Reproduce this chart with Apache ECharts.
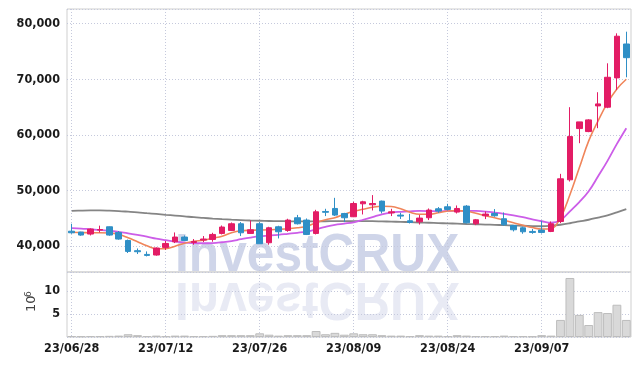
<!DOCTYPE html>
<html>
<head>
<meta charset="utf-8">
<script src="https://cdn.jsdelivr.net/npm/echarts@6/dist/echarts.min.js"></script>
<style>
  html, body { margin: 0; padding: 0; background: #fff; }
  #chart { width: 639px; height: 366px; }
</style>
</head>
<body>
<div id="chart"></div>
<script>
// trading days (KRX) 2023-06-28 .. 2023-09-20
var dates = [
  '23/06/28','23/06/29','23/06/30','23/07/03','23/07/04','23/07/05','23/07/06','23/07/07','23/07/10','23/07/11',
  '23/07/12','23/07/13','23/07/14','23/07/17','23/07/18','23/07/19','23/07/20','23/07/21','23/07/24','23/07/25',
  '23/07/26','23/07/27','23/07/28','23/07/31','23/08/01','23/08/02','23/08/03','23/08/04','23/08/07','23/08/08',
  '23/08/09','23/08/10','23/08/11','23/08/14','23/08/16','23/08/17','23/08/18','23/08/21','23/08/22','23/08/23',
  '23/08/24','23/08/25','23/08/28','23/08/29','23/08/30','23/08/31','23/09/01','23/09/04','23/09/05','23/09/06',
  '23/09/07','23/09/08','23/09/11','23/09/12','23/09/13','23/09/14','23/09/15','23/09/18','23/09/19','23/09/20'
];

var opens = [
  42700,42550,42190,42900,43500,42480,41040,39200,38530,38420,
  39790,40800,41650,40680,41100,41220,42300,42840,44040,42300,
  44040,40630,43500,42840,45120,44700,42300,46250,46790,45890,
  45300,47630,47450,48110,45990,45600,44580,44400,45120,46730,
  47090,46140,47210,44040,45480,45890,44940,43730,43320,42660,
  42900,42660,44450,51940,61150,60610,65220,64990,70260,76350
];
var closes = [
  42420,42010,43090,43000,42010,41290,39070,39010,38350,39680,
  40500,41650,41040,40860,41300,42120,43450,44040,42420,42960,
  40450,43320,42600,44700,44040,42120,46190,46100,45600,45120,
  47680,47990,47680,46320,46190,45420,44270,45060,46500,46320,
  46610,46790,44220,44760,45780,45480,43860,42960,42600,42480,
  42480,44040,52120,59710,62350,62710,65580,70370,77750,73890
];
var lows = [
  42240,41880,41940,42480,41880,41170,38780,38600,38170,38300,
  39330,40570,40930,40270,40750,40810,42120,42730,41830,42240,
  40450,40270,41400,42600,43910,42010,42120,45420,45420,44340,
  45240,45710,46430,45900,45420,44900,44090,43900,44700,46010,
  46430,45890,44090,43800,44880,45300,43680,42660,42240,42240,
  42300,42540,44160,51630,58520,60500,61220,64810,68090,70370
];
var highs = [
  44040,42600,43200,43700,43550,42730,41200,39600,39070,39790,
  40950,42480,41940,41290,41830,42420,43730,44270,44340,44630,
  44340,43500,43680,44940,45630,44990,46550,46730,48700,46000,
  47990,48170,49190,48200,46730,46010,45830,45600,46790,47040,
  47630,47330,47390,44900,46250,46680,46070,43800,43500,43090,
  44580,44450,53010,64990,62350,62830,67680,72880,78270,78560
];

// moving averages as drawn
var ma5 = [
  42510,42460,42420,42420,42390,42150,41530,40810,40090,39550,
  39550,40000,40540,40900,41080,41440,41800,42420,42780,42870,
  42910,42960,43050,43140,43320,43590,44220,44760,45120,45740,
  46280,46640,47000,47180,47130,46730,46100,45740,45740,46010,
  46320,46410,46280,45920,45470,45120,44670,44220,43770,43360,
  43090,43140,45120,49240,54090,58940,62530,65760,68270,70010
];
var ma20 = [
  43270,43180,43050,42930,42780,42600,42330,42030,41710,41350,
  41080,40840,40660,40570,40540,40570,40720,40930,41260,41560,
  41800,41920,42060,42240,42420,42640,43050,43500,43860,44070,
  44310,44760,45240,45740,46050,46190,46280,46340,46320,46280,
  46340,46370,46370,46340,46230,46050,45830,45560,45240,44850,
  44490,44220,44670,46280,47930,49870,52570,55350,58400,61220
];
var ma120 = [
  46370,46410,46430,46430,46390,46320,46210,46090,45940,45800,
  45650,45510,45370,45220,45100,44970,44860,44770,44700,44630,
  44580,44540,44510,44490,44470,44470,44470,44490,44510,44520,
  44520,44520,44510,44470,44430,44380,44330,44270,44220,44160,
  44110,44060,44000,43950,43900,43840,43790,43730,43680,43630,
  43590,43680,43860,44130,44450,44760,45150,45560,46100,46680
];

// volume, millions of shares
var volumes = [
  0.2,0.15,0.2,0.2,0.25,0.3,0.6,0.4,0.2,0.3,
  0.2,0.3,0.3,0.2,0.2,0.25,0.4,0.4,0.4,0.4,
  0.8,0.5,0.3,0.4,0.4,0.4,1.3,0.6,0.9,0.5,
  0.8,0.6,0.6,0.4,0.3,0.3,0.2,0.4,0.3,0.3,
  0.2,0.4,0.3,0.2,0.2,0.2,0.3,0.2,0.2,0.15,
  0.4,0.3,3.7,12.8,4.8,2.6,5.4,5.2,7.0,3.7
];

var upColor = '#e31c65';
var downColor = '#2f8fc6';

var candles = [];
for (var i = 0; i < dates.length; i++) {
  candles.push([opens[i], closes[i], lows[i], highs[i]]);
}

var labelFont = {
  color: '#1a1a1a',
  fontFamily: '"DejaVu Sans Condensed", "DejaVu Sans", sans-serif',
  fontWeight: 'bold',
  fontSize: 12.5
};
var gridDots = { color: '#c5c9dc', type: [1, 2], width: 1 };

var myChart = echarts.init(document.getElementById('chart'), null, { renderer: 'canvas' });

var option = {
  animation: false,
  backgroundColor: '#fff',
  grid: [
    { left: 67, right: 8, top: 9, height: 263, show: true, borderColor: '#cfcfcf', borderWidth: 1 },
    { left: 67, right: 8, top: 272, height: 65, show: true, borderColor: '#cfcfcf', borderWidth: 1 }
  ],
  xAxis: [
    {
      type: 'category', data: dates, gridIndex: 0, boundaryGap: true,
      axisLine: { show: false }, axisTick: { show: false }, axisLabel: { show: false },
      splitLine: { show: true, interval: 9, alignWithLabel: true, lineStyle: gridDots }
    },
    {
      type: 'category', data: dates, gridIndex: 1, boundaryGap: true,
      axisLine: { show: false }, axisTick: { show: false },
      axisLabel: Object.assign({ interval: 9, margin: 5 }, labelFont),
      splitLine: { show: true, interval: 9, alignWithLabel: true, lineStyle: gridDots }
    }
  ],
  yAxis: [
    {
      type: 'value', gridIndex: 0, min: 35370, max: 82640, splitNumber: 5, scale: true,
      axisLine: { show: false }, axisTick: { show: false },
      axisLabel: Object.assign({ margin: 7, showMinLabel: false, showMaxLabel: false,
        formatter: function (v) { return v % 10000 === 0 ? v.toLocaleString('en-US') : ''; } }, labelFont),
      splitLine: { show: true, lineStyle: gridDots }
    },
    {
      type: 'value', gridIndex: 1, min: 0, max: 14.1, interval: 5,
      axisLine: { show: false }, axisTick: { show: false },
      axisLabel: Object.assign({ margin: 7, showMinLabel: false, showMaxLabel: false,
        formatter: function (v) { return v % 5 === 0 && v > 0 ? String(v) : ''; } }, labelFont),
      splitLine: { show: true, lineStyle: gridDots }
    }
  ],
  graphic: [
    {
      type: 'text', x: 175, y: 229, scaleX: 0.92, z: -1, silent: true,
      style: { text: 'InvestCRUX', font: 'bold 54px "Liberation Sans"', fill: 'rgba(178,188,220,0.62)' }
    },
    {
      type: 'text', x: 175, y: 325, scaleX: 0.92, scaleY: -1, z: -1, silent: true,
      style: { text: 'InvestCRUX', font: 'bold 54px "Liberation Sans"', fill: 'rgba(200,206,228,0.42)' }
    },
    {
      type: 'group', x: 38, y: 312, rotation: Math.PI / 2, silent: true,
      children: [
        { type: 'text', x: 0, y: 0, style: { text: '10', font: '13px "DejaVu Sans"', fill: '#444', textVerticalAlign: 'bottom' } },
        { type: 'text', x: 15, y: -5, style: { text: '6', font: '9px "DejaVu Sans"', fill: '#444', textVerticalAlign: 'bottom' } }
      ]
    }
  ],
  series: [
    {
      name: 'candle', type: 'candlestick', xAxisIndex: 0, yAxisIndex: 0,
      data: candles, barWidth: '66%',
      itemStyle: { color: upColor, color0: downColor, borderColor: upColor, borderColor0: downColor, borderWidth: 1 }
    },
    {
      name: 'MA120', type: 'line', xAxisIndex: 0, yAxisIndex: 0, data: ma120,
      smooth: 0.4, showSymbol: false, lineStyle: { color: '#858585', width: 1.8 }, z: 1
    },
    {
      name: 'MA20', type: 'line', xAxisIndex: 0, yAxisIndex: 0, data: ma20,
      smooth: 0.4, showSymbol: false, lineStyle: { color: '#cc5de8', width: 1.8 }, z: 1
    },
    {
      name: 'MA5', type: 'line', xAxisIndex: 0, yAxisIndex: 0, data: ma5,
      smooth: 0.4, showSymbol: false, lineStyle: { color: '#f0855a', width: 1.6 }, z: 1
    },
    {
      name: 'volume', type: 'bar', xAxisIndex: 1, yAxisIndex: 1, data: volumes,
      barCategoryGap: '6%',
      itemStyle: { color: '#d9d9d9', borderColor: '#bdbdbd', borderWidth: 1 }
    }
  ]
};

myChart.setOption(option);
</script>
</body>
</html>
